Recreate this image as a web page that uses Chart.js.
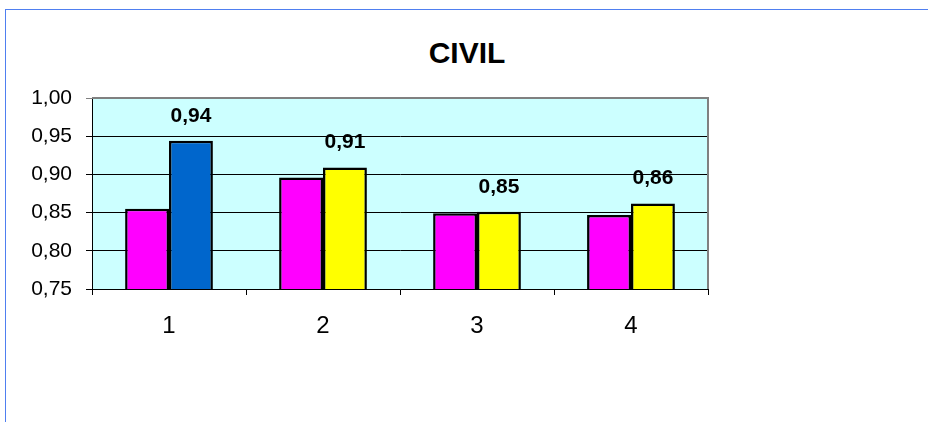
<!DOCTYPE html>
<html>
<head>
<meta charset="utf-8">
<script src="https://cdn.jsdelivr.net/npm/chart.js@4"></script>
<style>
  html, body { margin: 0; padding: 0; background: #fff; overflow: hidden; }
  #wrap { position: relative; width: 928px; height: 422px; }
  #frame {
    position: absolute; left: 5px; top: 9px; width: 1000px; height: 600px;
    border-top: 1px solid #4f7ff0; border-left: 1px solid #4f7ff0;
  }
  #title {
    position: absolute; left: 267px; width: 400px; top: 36px; height: 36px;
    line-height: 36px; text-align: center;
    font: bold 30px Arial, "Liberation Sans", sans-serif; color: #000;
  }
  canvas { position: absolute; left: 0; top: 0; }
</style>
</head>
<body>
<div id="wrap">
  <div id="frame"></div>
  <div id="title">CIVIL</div>
  <canvas id="civilChart" width="928" height="422"></canvas>
</div>
<script>
const categories = ['1', '2', '3', '4'];
const serieA = [0.855, 0.896, 0.849, 0.847];
const serieB = [0.944, 0.909, 0.851, 0.862];
const yTicks = [0.75, 0.80, 0.85, 0.90, 0.95, 1.00];

const fmt = v => v.toFixed(2).replace('.', ',');
const FONT = 'Arial, "Liberation Sans", sans-serif';

// fundo azul claro + borda cinza da área do gráfico
const plotArea = {
  id: 'plotArea',
  beforeDraw(chart) {
    const a = chart.chartArea;
    const c = chart.ctx;
    c.save();
    c.fillStyle = '#ccffff';
    c.fillRect(a.left, a.top, a.right - a.left, a.bottom - a.top);
    c.restore();
  },
  afterDraw(chart) {
    const a = chart.chartArea;
    const c = chart.ctx;
    c.save();
    c.strokeStyle = '#808080';
    c.lineWidth = 2;
    c.beginPath();
    c.moveTo(a.left, a.top);
    c.lineTo(a.right, a.top);
    c.lineTo(a.right, a.bottom);
    c.stroke();
    c.restore();
  }
};

// rótulos de valor só na segunda série
const valueLabels = {
  id: 'valueLabels',
  afterDatasetsDraw(chart) {
    const c = chart.ctx;
    const meta = chart.getDatasetMeta(1);
    c.save();
    c.font = 'bold 21px ' + FONT;
    c.fillStyle = '#000';
    c.textAlign = 'center';
    c.textBaseline = 'middle';
    meta.data.forEach((bar, i) => {
      c.fillText(fmt(serieB[i]), bar.x, bar.y - 25);
    });
    c.restore();
  }
};

const ctx = document.getElementById('civilChart').getContext('2d');
new Chart(ctx, {
  type: 'bar',
  data: {
    labels: categories,
    datasets: [
      {
        data: serieA,
        backgroundColor: '#ff00ff',
        borderColor: '#000',
        borderWidth: 2.5,
        borderSkipped: 'bottom'
      },
      {
        data: serieB,
        backgroundColor: ['#0066cc', '#ffff00', '#ffff00', '#ffff00'],
        borderColor: '#000',
        borderWidth: 2.5,
        borderSkipped: 'bottom'
      }
    ]
  },
  options: {
    responsive: false,
    animation: false,
    events: [],
    layout: { padding: { left: 0, right: 220, top: 98, bottom: 0 } },
    datasets: {
      bar: { barPercentage: 1, categoryPercentage: 0.57 }
    },
    scales: {
      x: {
        grid: {
          offset: true,
          drawOnChartArea: false,
          tickLength: 6,
          color: '#000'
        },
        border: { color: '#000', width: 1 },
        ticks: {
          color: '#000',
          font: { family: FONT, size: 24 },
          padding: 17
        },
        afterFit(scale) { scale.height = 133; }
      },
      y: {
        min: 0.75,
        max: 1.0,
        afterBuildTicks(scale) {
          scale.ticks = yTicks.map(v => ({ value: v }));
        },
        grid: {
          color: ctx => ctx.tick && ctx.tick.value >= 0.999 ? '#808080' : '#000',
          tickLength: 6,
          lineWidth: 1
        },
        border: { color: '#000', width: 1 },
        ticks: {
          color: '#000',
          font: { family: FONT, size: 21 },
          padding: 14,
          callback: v => fmt(v)
        },
        afterFit(scale) { scale.width = 92; }
      }
    },
    plugins: {
      legend: { display: false },
      tooltip: { enabled: false },
      title: { display: false }
    }
  },
  plugins: [plotArea, valueLabels]
});
</script>
</body>
</html>
